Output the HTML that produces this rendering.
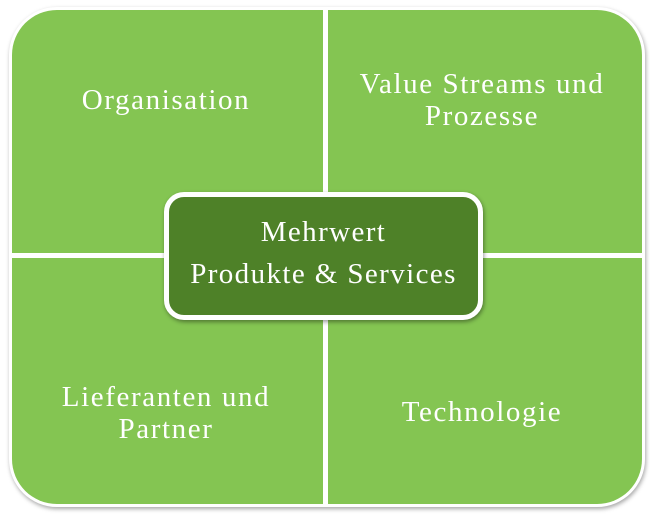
<!DOCTYPE html>
<html><head><meta charset="utf-8"><style>
body{margin:0;width:650px;height:519px;background:#fff;position:relative;overflow:hidden;font-family:"Liberation Serif",serif;color:#fff}
.q{position:absolute;background:#84c552}
.t{position:absolute;text-align:center;font-size:29px;letter-spacing:1.6px;line-height:32px;width:320px}
</style></head><body>
<div style="position:absolute;left:9px;top:7px;width:636px;height:500px;border-radius:48px;background:#fff;box-shadow:1px 2px 4px rgba(0,0,0,0.35)"></div>
<div class="q" style="left:12px;top:10px;width:311px;height:243px;border-top-left-radius:45px"></div>
<div class="q" style="left:328px;top:10px;width:314px;height:243px;border-top-right-radius:45px"></div>
<div class="q" style="left:12px;top:258px;width:311px;height:246px;border-bottom-left-radius:45px"></div>
<div class="q" style="left:328px;top:258px;width:314px;height:246px;border-bottom-right-radius:45px"></div>
<div class="t" style="left:6px;top:84px">Organisation</div>
<div class="t" style="left:322px;top:68px">Value Streams und<br>Prozesse</div>
<div class="t" style="left:6px;top:381px">Lieferanten und<br>Partner</div>
<div class="t" style="left:322px;top:396px">Technologie</div>
<div style="position:absolute;left:164px;top:192px;width:309px;background:#4e8128;border:5px solid #fff;border-radius:20px;box-shadow:1px 2px 4px rgba(0,0,0,0.4);text-align:center;font-size:29px;letter-spacing:1.4px;line-height:42px;padding-top:14px;height:104px">Mehrwert<br>Produkte &amp; Services</div>
</body></html>
